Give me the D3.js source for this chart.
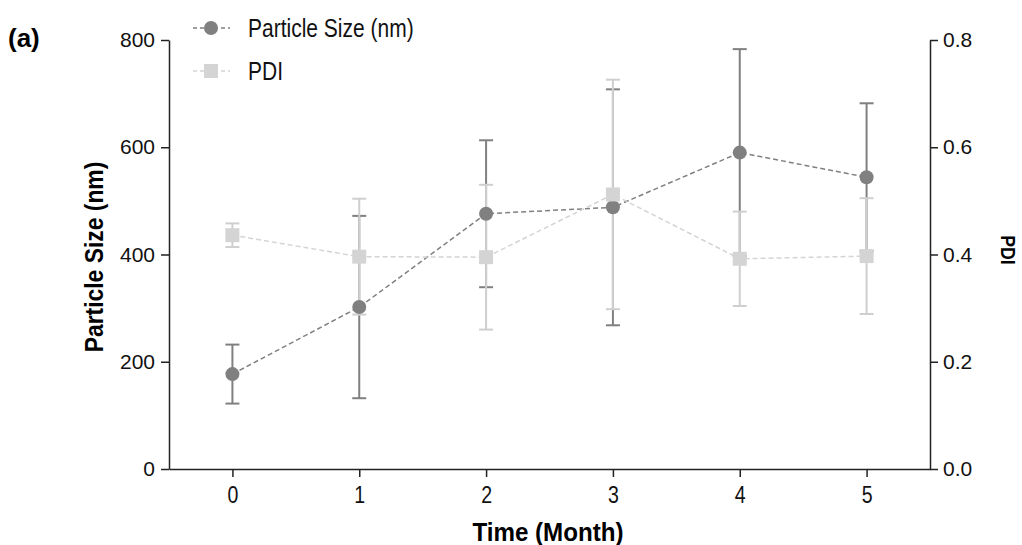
<!DOCTYPE html>
<html><head><meta charset="utf-8">
<script src="https://cdn.jsdelivr.net/npm/d3@7"></script>
<style>body{margin:0;background:#fff}</style>
</head><body>
<svg id="c" width="1022" height="545"></svg>
<script>
const months = [0, 1, 2, 3, 4, 5];
const sizeMean = [177, 302, 476, 488, 590, 544];
const sizeErr = [55, 170, 137, 220, 193, 138];
const pdiMean = [0.436, 0.396, 0.395, 0.512, 0.392, 0.397];
const pdiErr = [0.022, 0.108, 0.135, 0.214, 0.088, 0.108];
const leftTicks = [0, 200, 400, 600, 800];
const rightTicks = [0, 0.2, 0.4, 0.6, 0.8];

const svg = d3.select("#c");
const x = d3.scaleLinear().domain([-0.5, 5.5]).range([169, 930]);
const yL = d3.scaleLinear().domain([0, 800]).range([469, 40]);
const yR = d3.scaleLinear().domain([0, 0.8]).range([469, 40]);
const dark = "#808080", light = "#d4d4d4";
const sans = "'Liberation Sans', Arial, sans-serif";

// axes
const ax = svg.append("g").attr("transform", "translate(0,469)")
  .call(d3.axisBottom(x).tickValues(months).tickFormat(d3.format("d")).tickSize(8).tickSizeOuter(0).tickPadding(10));
const al = svg.append("g").attr("transform", "translate(169,0)")
  .call(d3.axisLeft(yL).tickValues(leftTicks).tickSize(8).tickSizeOuter(0).tickPadding(6));
const ar = svg.append("g").attr("transform", "translate(930,0)")
  .call(d3.axisRight(yR).tickValues(rightTicks).tickFormat(d3.format(".1f")).tickSize(8).tickSizeOuter(0).tickPadding(5));
[ax, al, ar].forEach(g => {
  g.selectAll("path,line").attr("stroke", "#222").attr("stroke-width", 1.5);
  g.selectAll("text").attr("fill", "#111");
});
ax.selectAll("text").style("font-family", sans).style("font-size", "23px")
  .attr("transform", "scale(0.85,1)");
al.selectAll("text").style("font-family", sans).style("font-size", "21px");
ar.selectAll("text").style("font-family", sans).style("font-size", "21px");

// error bars
function errBars(mean, err, y, color) {
  const g = svg.append("g").attr("stroke", color).attr("stroke-width", 2);
  months.forEach((m, i) => {
    const cx = x(m), t = y(mean[i] + err[i]), b = y(mean[i] - err[i]);
    g.append("line").attr("x1", cx).attr("x2", cx).attr("y1", t).attr("y2", b);
    g.append("line").attr("x1", cx - 7).attr("x2", cx + 7).attr("y1", t).attr("y2", t);
    g.append("line").attr("x1", cx - 7).attr("x2", cx + 7).attr("y1", b).attr("y2", b);
  });
}
errBars(sizeMean, sizeErr, yL, dark);
errBars(pdiMean, pdiErr, yR, "#cfcfcf");

// lines
const lineL = d3.line().x((d, i) => x(months[i])).y(d => yL(d));
const lineR = d3.line().x((d, i) => x(months[i])).y(d => yR(d));
svg.append("path").attr("d", lineL(sizeMean)).attr("fill", "none")
  .attr("stroke", dark).attr("stroke-width", 1.5).attr("stroke-dasharray", "5,3");
svg.selectAll(".cir").data(sizeMean).enter().append("circle")
  .attr("cx", (d, i) => x(months[i])).attr("cy", d => yL(d)).attr("r", 7).attr("fill", dark);
svg.append("path").attr("d", lineR(pdiMean)).attr("fill", "none")
  .attr("stroke", light).attr("stroke-width", 1.5).attr("stroke-dasharray", "5,3");
svg.selectAll(".sq").data(pdiMean).enter().append("rect")
  .attr("x", (d, i) => x(months[i]) - 7).attr("y", d => yR(d) - 7)
  .attr("width", 14).attr("height", 14).attr("fill", light);

// legend
const leg = [{t: "Particle Size (nm)", c: dark, s: "c", y: 28}, {t: "PDI", c: light, s: "s", y: 71}];
leg.forEach(l => {
  svg.append("line").attr("x1", 193).attr("x2", 230).attr("y1", l.y).attr("y2", l.y)
    .attr("stroke", l.c).attr("stroke-width", 1.5).attr("stroke-dasharray", "4,3");
  if (l.s === "c") svg.append("circle").attr("cx", 211).attr("cy", l.y).attr("r", 7).attr("fill", l.c);
  else svg.append("rect").attr("x", 204).attr("y", l.y - 7).attr("width", 14).attr("height", 14).attr("fill", l.c);
  svg.append("text").attr("transform", `translate(248,${l.y + 9}) scale(0.84,1)`).text(l.t)
    .style("font-family", sans).style("font-size", "25px").attr("fill", "#111");
});

// titles
svg.append("text").attr("transform", "translate(8,47)").text("(a)")
  .style("font-family", sans).style("font-weight", "bold").style("font-size", "26px");
svg.append("text").attr("transform", "translate(548,541) scale(0.93,1)").attr("text-anchor", "middle").text("Time (Month)")
  .style("font-family", sans).style("font-weight", "bold").style("font-size", "26px");
svg.append("text").attr("transform", "translate(103,257) rotate(-90) scale(0.88,1)").attr("text-anchor", "middle")
  .text("Particle Size (nm)").style("font-family", sans).style("font-weight", "bold").style("font-size", "26px");
svg.append("text").attr("transform", "translate(1001,250) rotate(90) scale(0.88,1)").attr("text-anchor", "middle")
  .text("PDI").style("font-family", sans).style("font-weight", "bold").style("font-size", "20px");
</script>
</body></html>
